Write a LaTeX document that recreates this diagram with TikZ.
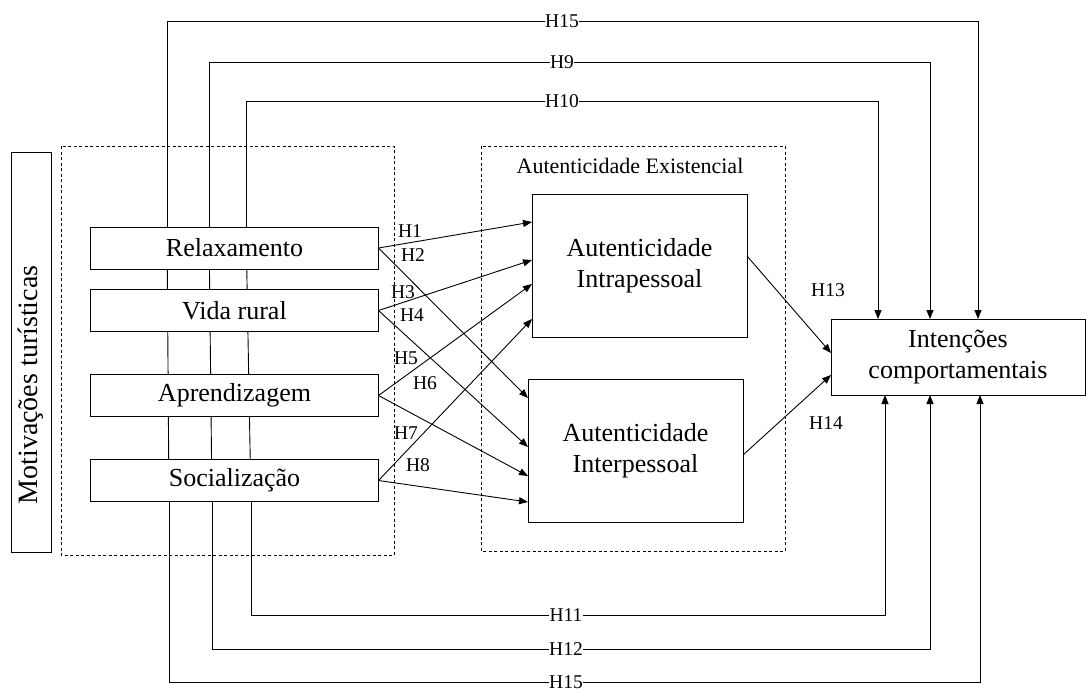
\documentclass[tikz,border=0pt]{standalone}
\usepackage{fontspec}
\setmainfont{Liberation Serif}
\usetikzlibrary{arrows.meta,positioning,backgrounds}
\tikzset{
  motivbox/.style={draw,fill=white,line width=0.9pt,minimum width=288pt,
                   minimum height=42pt,inner sep=0pt,outer sep=0pt,
                   font=\fontsize{26}{31}\selectfont},
  authbox/.style={draw,fill=white,line width=0.9pt,minimum width=215pt,
                  minimum height=143pt,inner sep=0pt,outer sep=0pt,
                  align=center,font=\fontsize{26}{31}\selectfont},
  sidebar/.style={draw,line width=0.9pt,minimum width=40pt,
                  minimum height=400pt,inner sep=0pt},
  groupframe/.style={draw,line width=0.8pt,dash pattern=on 3pt off 2.5pt},
  hlabel/.style={inner sep=0.5pt,font=\fontsize{19.5}{22}\selectfont},
  hlabelbg/.style={hlabel,fill=white},
  loopline/.style={line width=0.9pt},
  arrowpath/.style={-{Triangle[length=9pt,width=7pt]},line width=0.9pt},
}
\begin{document}
\begin{tikzpicture}[x=1pt,y=-1pt]
  \useasboundingbox (0,0) rectangle (1086,691);

  \draw[groupframe] (61,146) rectangle (394,555);
  \draw[groupframe] (481,146) rectangle (785,551);
  \node[hlabel,font=\fontsize{22}{26}\selectfont] (existlbl) at (630,166)
    {Autenticidade Existencial};

  \node[sidebar] (motiv) at (31,352) {};
  \node[rotate=90,inner sep=0pt,font=\fontsize{28}{32}\selectfont]
    (motivlbl) at (31,385) {Motivações turísticas};

  \node[motivbox] (relax)  at (234.5,248)   {Relaxamento};
  \node[motivbox] (rural)  at (234.5,310.5) {Vida rural};
  \node[motivbox] (learn)  at (234.5,395.5) {Aprendizagem};
  \node[motivbox] (social) at (234.5,480.5) {Socialização};

  \node[authbox] (intra) at (639.5,265.5) {Autenticidade\\Intrapessoal};
  \node[authbox] (inter) at (635.5,450.5) {Autenticidade\\Interpessoal};
  \node[authbox,minimum width=254pt,minimum height=76pt] (intent) at (958,357)
    {Intenções\\comportamentais};

  \begin{scope}[on background layer]
    \foreach \xa/\xb in {167/169,209/212,246/251}{
      \coordinate (sa) at (\xa,0);
      \coordinate (sb) at (\xb,0);
      \draw[loopline] (relax.north -| sa) -- (social.south -| sb);
    }
    \foreach \xl/\yl/\xr in {167/21/978,209/62/930,246/101/878}{
      \coordinate (tl) at (\xl,\yl);
      \coordinate (tr) at (\xr,\yl);
      \draw[arrowpath] (relax.north -| tl) -- (tl) -- (tr) -- (intent.north -| tr);
    }
    \foreach \xl/\yl/\xr in {169/682/980,212/649/930,251/615/885}{
      \coordinate (bl) at (\xl,\yl);
      \coordinate (br) at (\xr,\yl);
      \draw[arrowpath] (social.south -| bl) -- (bl) -- (br) -- (intent.south -| br);
    }
  \end{scope}

  \node[hlabelbg] (h15t) at (562,21)  {H15};
  \node[hlabelbg] (h9)   at (562,62)  {H9};
  \node[hlabelbg] (h10)  at (562,101) {H10};
  \node[hlabelbg] (h11)  at (566,615) {H11};
  \node[hlabelbg] (h12)  at (566,649) {H12};
  \node[hlabelbg] (h15b) at (566,682) {H15};

  \draw[arrowpath] (relax.east)  -- ([yshift=43.5pt]intra.west);
  \draw[arrowpath] (relax.east)  -- ([yshift=52.5pt]inter.west);
  \draw[arrowpath] (rural.east)  -- ([yshift=5.5pt]intra.west);
  \draw[arrowpath] (rural.east)  -- ([yshift=3.5pt]inter.west);
  \draw[arrowpath] (learn.east)  -- ([yshift=-18.5pt]intra.west);
  \draw[arrowpath] (learn.east)  -- ([yshift=-25.5pt]inter.west);
  \draw[arrowpath] (social.east) -- ([yshift=-53.5pt]intra.west);
  \draw[arrowpath] (social.east) -- ([yshift=-51.5pt]inter.west);

  \node[hlabel] (h1) at (410,231) {H1};
  \node[hlabel] (h2) at (413,255) {H2};
  \node[hlabel] (h3) at (403,292) {H3};
  \node[hlabel] (h4) at (412,315) {H4};
  \node[hlabel] (h5) at (406,358) {H5};
  \node[hlabel] (h6) at (425,383) {H6};
  \node[hlabel] (h7) at (406,433) {H7};
  \node[hlabel] (h8) at (418,465) {H8};

  \draw[arrowpath] ([yshift=9.5pt]intra.east) -- ([yshift=4pt]intent.west);
  \draw[arrowpath] ([yshift=-4.5pt]inter.east) -- ([yshift=-18pt]intent.west);
  \node[hlabel] (h13) at (828,290) {H13};
  \node[hlabel] (h14) at (826,423) {H14};
\end{tikzpicture}
\end{document}
